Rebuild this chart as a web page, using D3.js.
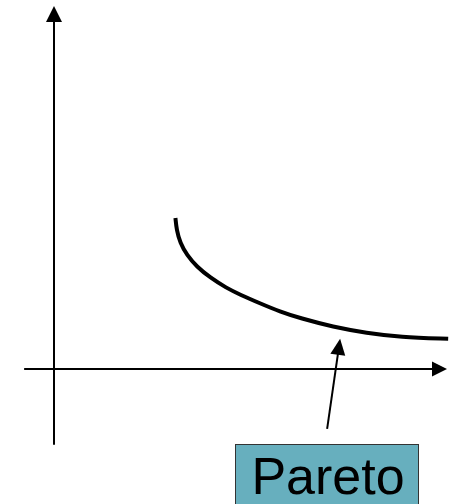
<!DOCTYPE html>
<html>
<head>
<meta charset="utf-8">
<script src="https://cdn.jsdelivr.net/npm/d3@7"></script>
<style>
  body { margin: 0; background: #fff; }
  svg { display: block; }
</style>
</head>
<body>
<svg id="chart" width="453" height="504"></svg>
<script>
// curve points (schematic units)
let curve_x = [3.09, 3.12, 3.21, 3.38, 3.63, 3.97, 4.39, 4.73, 5.24, 5.75, 6.26, 7.10, 7.96, 8.80, 10.03];
let curve_y = [4.16, 3.83, 3.47, 3.14, 2.82, 2.52, 2.23, 2.05, 1.81, 1.58, 1.40, 1.16, 0.99, 0.88, 0.83];

// axis extents and annotation
let x_axis_ext = [-0.76, 10.0];
let y_axis_ext = [-2.09, 10.0];
let pointer_from = [6.95, -1.65],
    pointer_to = [7.28, 0.83];
let label_text = "Pareto";

let svg = d3.select("#chart");

let x = d3.scaleLinear().domain([0, 10]).range([54, 447]),
    y = d3.scaleLinear().domain([0, 10]).range([369, 6]);

// draws a line ending in a filled arrowhead
function arrow(x1, y1, x2, y2, width, head_len, head_half) {
    let dx = x2 - x1, dy = y2 - y1,
        len = Math.sqrt(dx * dx + dy * dy),
        ux = dx / len, uy = dy / len,
        bx = x2 - ux * head_len, by = y2 - uy * head_len;

    svg.append("line")
        .attr("x1", x1).attr("y1", y1)
        .attr("x2", bx + ux).attr("y2", by + uy)
        .attr("stroke", "#000")
        .attr("stroke-width", width);

    svg.append("polygon")
        .attr("points", [[x2, y2], [bx - uy * head_half, by + ux * head_half], [bx + uy * head_half, by - ux * head_half]].join(" "))
        .attr("fill", "#000");
}

// axes
arrow(x(0), y(y_axis_ext[0]), x(0), y(y_axis_ext[1]), 2, 16, 8);
arrow(x(x_axis_ext[0]), y(0), x(x_axis_ext[1]), y(0), 2, 15, 7.5);

// curve
let pts = curve_x.map((d, i) => [d, curve_y[i]]);
svg.append("path")
    .datum(pts)
    .attr("fill", "none")
    .attr("stroke", "#000")
    .attr("stroke-width", 4)
    .attr("d", d3.line().x((d) => x(d[0])).y((d) => y(d[1])).curve(d3.curveBasis));

// pointer
arrow(x(pointer_from[0]), y(pointer_from[1]), x(pointer_to[0]), y(pointer_to[1]), 2, 16, 7.5);

// label box
svg.append("rect")
    .attr("x", 235.5).attr("y", 444.5)
    .attr("width", 183).attr("height", 80)
    .attr("fill", "#67afbe")
    .attr("stroke", "#333")
    .attr("stroke-width", 1);

svg.append("text")
    .attr("x", 328).attr("y", 494)
    .attr("text-anchor", "middle")
    .attr("font-family", "Liberation Sans, Arial, sans-serif")
    .attr("font-size", 52)
    .attr("fill", "#000")
    .text(label_text);
</script>
</body>
</html>
